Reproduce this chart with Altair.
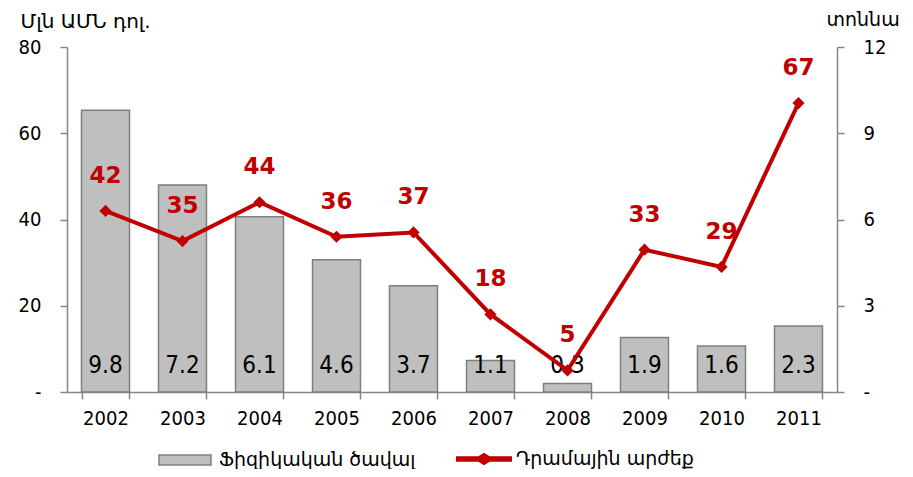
import altair as alt
import pandas as pd

years = ["2002", "2003", "2004", "2005", "2006", "2007", "2008", "2009", "2010", "2011"]
volume_t = [9.8, 7.2, 6.1, 4.6, 3.7, 1.1, 0.3, 1.9, 1.6, 2.3]
value_musd = [42, 35, 44, 36, 37, 18, 5, 33, 29, 67]
left_ticks = [0, 20, 40, 60, 80]
right_ticks = [0, 3, 6, 9, 12]
bar_series = "Ֆիզիկական ծավալ"
line_series = "Դրամային արժեք"
left_title = "Մլն ԱՄՆ դոլ."
right_title = "տոննա"

df = pd.DataFrame({
    "year": years,
    "volume": volume_t,
    "value": value_musd,
    "bar_s": [bar_series] * len(years),
    "line_s": [line_series] * len(years),
    "zero": [0] * len(years),
})

FONT = "DejaVu Sans Condensed, DejaVu Sans"
TFONT = "DejaVu Sans"
GRAY = "#868686"
RED = "#C00000"

x_enc = alt.X(
    "year:N", title=None,
    scale=alt.Scale(paddingInner=0.377, paddingOuter=0.1885),
    axis=alt.Axis(labelAngle=0, tickBand="extent", domainColor=GRAY, tickColor=GRAY,
                  tickSize=7, domainWidth=1.5, tickWidth=1.5, labelFontSize=20,
                  labelFont=FONT, labelColor="black", labelPadding=9, grid=False),
)

right_axis = alt.Axis(
    orient="right", values=right_ticks, grid=False,
    labelExpr="datum.value == 0 ? '-' : datum.label",
    labelFont=FONT, labelFontSize=20, labelColor="black", labelPadding=19,
    domainColor=GRAY, tickColor=GRAY, tickSize=7, domainWidth=1.5, tickWidth=1.5,
    title=right_title, titleAngle=0, titleX=-11, titleY=-22, titleAlign="left",
    titleBaseline="alphabetic", titleFont=TFONT, titleFontSize=19,
    titleFontWeight="normal", titleColor="black",
)
right_scale = alt.Scale(domain=[0, 12], nice=False)

left_axis = alt.Axis(
    orient="left", values=left_ticks, grid=False,
    labelExpr="datum.value == 0 ? '-\u2007\u2007' : datum.label",
    labelFont=FONT, labelFontSize=20, labelColor="black", labelPadding=19,
    domainColor=GRAY, tickColor=GRAY, tickSize=7, domainWidth=1.5, tickWidth=1.5,
    title=left_title, titleAngle=0, titleX=-47, titleY=-20, titleAlign="left",
    titleBaseline="alphabetic", titleFont=TFONT, titleFontSize=20,
    titleFontWeight="normal", titleColor="black",
)
left_scale = alt.Scale(domain=[0, 80], nice=False)

bar_path = "M-1,-0.19L1,-0.19L1,0.19L-1,0.19Z"
line_path = ("M-1,-0.1L-0.2,-0.1L0,-0.22L0.2,-0.1L1,-0.1L1,0.1L0.2,0.1L0,0.22"
             "L-0.2,0.1L-1,0.1Z")

bars = alt.Chart(df).mark_bar(stroke="#7F7F7F", strokeWidth=1.5).encode(
    x=x_enc,
    y=alt.Y("volume:Q", scale=right_scale, axis=right_axis),
    fill=alt.Fill("bar_s:N", scale=alt.Scale(range=["#BFBFBF"]),
                  legend=alt.Legend(orient="none", legendX=91, legendY=386, title=None,
                                    symbolType=bar_path, symbolSize=2704,
                                    symbolStrokeColor="#7F7F7F", symbolStrokeWidth=1.5,
                                    labelOffset=7, labelFontSize=19, labelFont=TFONT,
                                    labelLimit=400, labelColor="black", padding=0)),
)
bar_text = alt.Chart(df).mark_text(font=FONT, fontSize=24, color="black",
                                   baseline="middle", dy=-26).encode(
    x=x_enc,
    y=alt.Y("zero:Q", scale=right_scale, axis=right_axis),
    text=alt.Text("volume:Q", format=".1f"),
)

line = alt.Chart(df).mark_line(color=RED, strokeWidth=4).encode(
    x=x_enc,
    y=alt.Y("value:Q", scale=left_scale, axis=left_axis),
)
points = alt.Chart(df).mark_point(shape="diamond", filled=True, size=150, opacity=1).encode(
    x=x_enc,
    y=alt.Y("value:Q", scale=left_scale, axis=left_axis),
    color=alt.Color("line_s:N", scale=alt.Scale(range=[RED]),
                    legend=alt.Legend(orient="none", legendX=389, legendY=384, title=None,
                                      symbolType=line_path, symbolSize=3136,
                                      symbolStrokeWidth=0,
                                      labelOffset=4, labelFontSize=19, labelFont=TFONT,
                                      labelLimit=400, labelColor="black", padding=0)),
)
line_text = alt.Chart(df).mark_text(font="DejaVu Sans", fontSize=23, fontWeight="bold",
                                    color=RED, baseline="middle", dy=-35).encode(
    x=x_enc,
    y=alt.Y("value:Q", scale=left_scale, axis=left_axis),
    text=alt.Text("value:Q", format="d"),
)

chart = alt.layer(
    alt.layer(bars, bar_text),
    alt.layer(line, points, line_text),
).resolve_scale(y="independent").properties(
    width=770, height=345,
    autosize=alt.AutoSizeParams(type="none"),
    padding={"left": 59, "top": 39, "right": 66, "bottom": 77},
    background="white",
).configure_view(stroke=None)

chart.save("out.html", embed_options={"renderer": "svg", "actions": False})
